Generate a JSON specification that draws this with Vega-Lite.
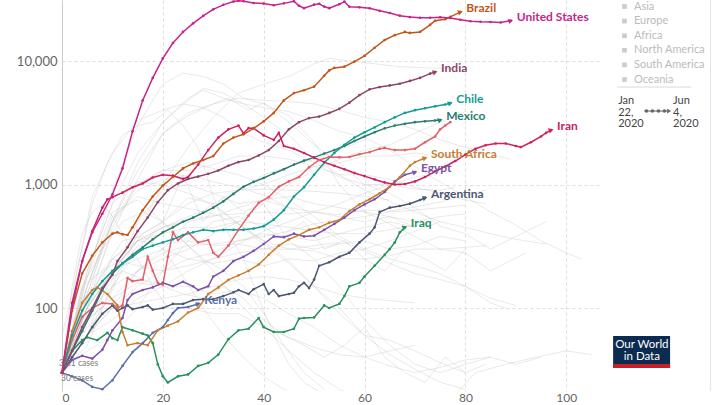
{
"$schema":"https://vega.github.io/schema/vega-lite/v6.json",
"width":538,"height":391,
"autosize":"none",
"padding":{"left":62,"top":0,"right":120,"bottom":14},
"background":"#ffffff",
"config":{"view":{"stroke":null},"font":"Lato","text":{"font":"Lato"}},
"datasets":{
"bgk":[{"c":"ITA","k":"Europe"},{"c":"ESP","k":"Europe"},{"c":"DEU","k":"Europe"},{"c":"FRA","k":"Europe"},{"c":"GBR","k":"Europe"},{"c":"RUS","k":"Europe"},{"c":"TUR","k":"Asia"},{"c":"CAN","k":"North America"},{"c":"BEL","k":"Europe"},{"c":"NLD","k":"Europe"},{"c":"CHE","k":"Europe"},{"c":"SWE","k":"Europe"},{"c":"PRT","k":"Europe"},{"c":"IRL","k":"Europe"},{"c":"AUT","k":"Europe"},{"c":"BLR","k":"Europe"},{"c":"UKR","k":"Europe"},{"c":"POL","k":"Europe"},{"c":"CHN","k":"Asia"},{"c":"KOR","k":"Asia"},{"c":"JPN","k":"Asia"},{"c":"PAK","k":"Asia"},{"c":"BGD","k":"Asia"},{"c":"QAT","k":"Asia"},{"c":"SGP","k":"Asia"},{"c":"PHL","k":"Asia"},{"c":"IDN","k":"Asia"},{"c":"ISR","k":"Asia"},{"c":"ARE","k":"Asia"},{"c":"DOM","k":"North America"},{"c":"ECU","k":"South America"},{"c":"COL","k":"South America"},{"c":"NGA","k":"Africa"},{"c":"DZA","k":"Africa"},{"c":"MAR","k":"Africa"},{"c":"AUS","k":"Oceania"},{"c":"MYS","k":"Asia"}],
"bg":[
{"c":"ITA","d":0,"v":30},{"c":"ITA","d":5,"v":200},{"c":"ITA","d":10,"v":700},{"c":"ITA","d":15,"v":1800},{"c":"ITA","d":20,"v":3200},{"c":"ITA","d":25,"v":5000},{"c":"ITA","d":28,"v":5800},{"c":"ITA","d":32,"v":5000},{"c":"ITA","d":36,"v":4500},{"c":"ITA","d":40,"v":4200},{"c":"ITA","d":45,"v":3900},{"c":"ITA","d":50,"v":3300},{"c":"ITA","d":55,"v":2700},{"c":"ITA","d":60,"v":2400},{"c":"ITA","d":65,"v":1900},{"c":"ITA","d":70,"v":1400},{"c":"ITA","d":75,"v":1050},{"c":"ITA","d":80,"v":800},{"c":"ITA","d":85,"v":600},{"c":"ITA","d":90,"v":470},{"c":"ITA","d":95,"v":350},{"c":"ITA","d":100,"v":280},{"c":"ITA","d":103,"v":250},
{"c":"ESP","d":0,"v":30},{"c":"ESP","d":5,"v":180},{"c":"ESP","d":10,"v":900},{"c":"ESP","d":15,"v":3000},{"c":"ESP","d":20,"v":6500},{"c":"ESP","d":24,"v":8000},{"c":"ESP","d":28,"v":7500},{"c":"ESP","d":32,"v":6500},{"c":"ESP","d":36,"v":5000},{"c":"ESP","d":40,"v":4500},{"c":"ESP","d":45,"v":3600},{"c":"ESP","d":50,"v":2200},{"c":"ESP","d":55,"v":1000},{"c":"ESP","d":60,"v":600},{"c":"ESP","d":65,"v":480},{"c":"ESP","d":70,"v":380},{"c":"ESP","d":75,"v":300},{"c":"ESP","d":80,"v":280},{"c":"ESP","d":85,"v":200},{"c":"ESP","d":92,"v":280},
{"c":"DEU","d":0,"v":30},{"c":"DEU","d":5,"v":150},{"c":"DEU","d":10,"v":500},{"c":"DEU","d":15,"v":1500},{"c":"DEU","d":20,"v":3200},{"c":"DEU","d":25,"v":4800},{"c":"DEU","d":28,"v":6000},{"c":"DEU","d":32,"v":5500},{"c":"DEU","d":36,"v":4500},{"c":"DEU","d":40,"v":3500},{"c":"DEU","d":45,"v":2500},{"c":"DEU","d":50,"v":1600},{"c":"DEU","d":55,"v":1200},{"c":"DEU","d":60,"v":900},{"c":"DEU","d":65,"v":730},{"c":"DEU","d":70,"v":600},{"c":"DEU","d":75,"v":500},{"c":"DEU","d":80,"v":450},{"c":"DEU","d":85,"v":400},{"c":"DEU","d":90,"v":360},{"c":"DEU","d":96,"v":330},
{"c":"FRA","d":0,"v":30},{"c":"FRA","d":5,"v":150},{"c":"FRA","d":10,"v":500},{"c":"FRA","d":15,"v":1300},{"c":"FRA","d":20,"v":2600},{"c":"FRA","d":25,"v":3600},{"c":"FRA","d":30,"v":4500},{"c":"FRA","d":33,"v":5000},{"c":"FRA","d":37,"v":4000},{"c":"FRA","d":40,"v":4600},{"c":"FRA","d":45,"v":3200},{"c":"FRA","d":50,"v":2100},{"c":"FRA","d":55,"v":1500},{"c":"FRA","d":60,"v":1000},{"c":"FRA","d":65,"v":850},{"c":"FRA","d":70,"v":650},{"c":"FRA","d":75,"v":460},{"c":"FRA","d":80,"v":400},{"c":"FRA","d":85,"v":300},{"c":"FRA","d":90,"v":380},{"c":"FRA","d":96,"v":500},
{"c":"GBR","d":0,"v":30},{"c":"GBR","d":5,"v":120},{"c":"GBR","d":10,"v":400},{"c":"GBR","d":15,"v":1100},{"c":"GBR","d":20,"v":2600},{"c":"GBR","d":25,"v":3800},{"c":"GBR","d":30,"v":4500},{"c":"GBR","d":35,"v":5000},{"c":"GBR","d":40,"v":4800},{"c":"GBR","d":45,"v":4700},{"c":"GBR","d":50,"v":4500},{"c":"GBR","d":55,"v":4000},{"c":"GBR","d":60,"v":3500},{"c":"GBR","d":65,"v":3200},{"c":"GBR","d":70,"v":2800},{"c":"GBR","d":75,"v":2300},{"c":"GBR","d":80,"v":2000},{"c":"GBR","d":85,"v":1750},{"c":"GBR","d":89,"v":1600},
{"c":"RUS","d":0,"v":30},{"c":"RUS","d":5,"v":60},{"c":"RUS","d":10,"v":140},{"c":"RUS","d":15,"v":400},{"c":"RUS","d":20,"v":1000},{"c":"RUS","d":25,"v":2000},{"c":"RUS","d":30,"v":3500},{"c":"RUS","d":35,"v":5500},{"c":"RUS","d":40,"v":6500},{"c":"RUS","d":45,"v":7500},{"c":"RUS","d":50,"v":9500},{"c":"RUS","d":53,"v":10500},{"c":"RUS","d":57,"v":10000},{"c":"RUS","d":62,"v":9500},{"c":"RUS","d":67,"v":9000},{"c":"RUS","d":72,"v":8800},{"c":"RUS","d":78,"v":8700},
{"c":"TUR","d":0,"v":30},{"c":"TUR","d":3,"v":200},{"c":"TUR","d":6,"v":800},{"c":"TUR","d":10,"v":1800},{"c":"TUR","d":15,"v":3300},{"c":"TUR","d":20,"v":4000},{"c":"TUR","d":24,"v":4500},{"c":"TUR","d":28,"v":4200},{"c":"TUR","d":32,"v":3500},{"c":"TUR","d":36,"v":2600},{"c":"TUR","d":40,"v":2200},{"c":"TUR","d":45,"v":1900},{"c":"TUR","d":50,"v":1500},{"c":"TUR","d":55,"v":1150},{"c":"TUR","d":60,"v":1000},{"c":"TUR","d":65,"v":1000},{"c":"TUR","d":70,"v":920},{"c":"TUR","d":75,"v":900},{"c":"TUR","d":78,"v":950},
{"c":"CAN","d":0,"v":30},{"c":"CAN","d":5,"v":130},{"c":"CAN","d":10,"v":500},{"c":"CAN","d":15,"v":1000},{"c":"CAN","d":20,"v":1300},{"c":"CAN","d":25,"v":1300},{"c":"CAN","d":30,"v":1450},{"c":"CAN","d":35,"v":1700},{"c":"CAN","d":40,"v":1700},{"c":"CAN","d":45,"v":1600},{"c":"CAN","d":50,"v":1400},{"c":"CAN","d":55,"v":1200},{"c":"CAN","d":60,"v":1200},{"c":"CAN","d":65,"v":1100},{"c":"CAN","d":70,"v":950},{"c":"CAN","d":75,"v":850},{"c":"CAN","d":80,"v":750},{"c":"CAN","d":84,"v":700},
{"c":"BEL","d":0,"v":30},{"c":"BEL","d":5,"v":100},{"c":"BEL","d":10,"v":450},{"c":"BEL","d":15,"v":1000},{"c":"BEL","d":20,"v":1300},{"c":"BEL","d":25,"v":1500},{"c":"BEL","d":30,"v":1350},{"c":"BEL","d":35,"v":1200},{"c":"BEL","d":40,"v":1000},{"c":"BEL","d":45,"v":750},{"c":"BEL","d":50,"v":550},{"c":"BEL","d":55,"v":380},{"c":"BEL","d":60,"v":300},{"c":"BEL","d":65,"v":250},{"c":"BEL","d":70,"v":220},{"c":"BEL","d":75,"v":190},{"c":"BEL","d":80,"v":150},{"c":"BEL","d":85,"v":110},{"c":"BEL","d":88,"v":100},
{"c":"NLD","d":0,"v":30},{"c":"NLD","d":5,"v":130},{"c":"NLD","d":10,"v":500},{"c":"NLD","d":15,"v":900},{"c":"NLD","d":20,"v":1100},{"c":"NLD","d":25,"v":1200},{"c":"NLD","d":30,"v":1050},{"c":"NLD","d":35,"v":950},{"c":"NLD","d":40,"v":820},{"c":"NLD","d":45,"v":650},{"c":"NLD","d":50,"v":480},{"c":"NLD","d":55,"v":360},{"c":"NLD","d":60,"v":290},{"c":"NLD","d":65,"v":230},{"c":"NLD","d":70,"v":190},{"c":"NLD","d":75,"v":170},{"c":"NLD","d":80,"v":150},{"c":"NLD","d":85,"v":120},{"c":"NLD","d":90,"v":105},
{"c":"CHE","d":0,"v":30},{"c":"CHE","d":5,"v":200},{"c":"CHE","d":10,"v":700},{"c":"CHE","d":15,"v":1050},{"c":"CHE","d":20,"v":1000},{"c":"CHE","d":25,"v":850},{"c":"CHE","d":30,"v":680},{"c":"CHE","d":35,"v":480},{"c":"CHE","d":40,"v":330},{"c":"CHE","d":45,"v":230},{"c":"CHE","d":50,"v":150},{"c":"CHE","d":55,"v":100},{"c":"CHE","d":60,"v":60},{"c":"CHE","d":65,"v":42},{"c":"CHE","d":70,"v":32},{"c":"CHE","d":75,"v":25},{"c":"CHE","d":80,"v":22},
{"c":"SWE","d":0,"v":30},{"c":"SWE","d":5,"v":80},{"c":"SWE","d":10,"v":170},{"c":"SWE","d":15,"v":320},{"c":"SWE","d":20,"v":450},{"c":"SWE","d":25,"v":520},{"c":"SWE","d":30,"v":560},{"c":"SWE","d":35,"v":580},{"c":"SWE","d":40,"v":600},{"c":"SWE","d":45,"v":580},{"c":"SWE","d":50,"v":600},{"c":"SWE","d":55,"v":570},{"c":"SWE","d":60,"v":620},{"c":"SWE","d":65,"v":610},{"c":"SWE","d":70,"v":660},{"c":"SWE","d":75,"v":720},{"c":"SWE","d":80,"v":820},{"c":"SWE","d":84,"v":900},
{"c":"PRT","d":0,"v":30},{"c":"PRT","d":5,"v":150},{"c":"PRT","d":10,"v":550},{"c":"PRT","d":15,"v":800},{"c":"PRT","d":20,"v":700},{"c":"PRT","d":25,"v":640},{"c":"PRT","d":30,"v":580},{"c":"PRT","d":35,"v":480},{"c":"PRT","d":40,"v":350},{"c":"PRT","d":45,"v":300},{"c":"PRT","d":50,"v":290},{"c":"PRT","d":55,"v":250},{"c":"PRT","d":60,"v":250},{"c":"PRT","d":65,"v":265},{"c":"PRT","d":70,"v":300},{"c":"PRT","d":75,"v":300},{"c":"PRT","d":80,"v":310},{"c":"PRT","d":84,"v":320},
{"c":"IRL","d":0,"v":30},{"c":"IRL","d":5,"v":120},{"c":"IRL","d":10,"v":250},{"c":"IRL","d":15,"v":380},{"c":"IRL","d":20,"v":500},{"c":"IRL","d":25,"v":780},{"c":"IRL","d":30,"v":700},{"c":"IRL","d":35,"v":480},{"c":"IRL","d":40,"v":350},{"c":"IRL","d":45,"v":240},{"c":"IRL","d":50,"v":150},{"c":"IRL","d":55,"v":90},{"c":"IRL","d":60,"v":60},{"c":"IRL","d":65,"v":55},{"c":"IRL","d":70,"v":45},{"c":"IRL","d":75,"v":36},{"c":"IRL","d":80,"v":30},
{"c":"AUT","d":0,"v":30},{"c":"AUT","d":5,"v":180},{"c":"AUT","d":10,"v":600},{"c":"AUT","d":15,"v":750},{"c":"AUT","d":20,"v":500},{"c":"AUT","d":25,"v":320},{"c":"AUT","d":30,"v":200},{"c":"AUT","d":35,"v":110},{"c":"AUT","d":40,"v":70},{"c":"AUT","d":45,"v":58},{"c":"AUT","d":50,"v":48},{"c":"AUT","d":55,"v":42},{"c":"AUT","d":60,"v":40},{"c":"AUT","d":65,"v":34},{"c":"AUT","d":70,"v":30},{"c":"AUT","d":75,"v":33},{"c":"AUT","d":80,"v":38},{"c":"AUT","d":85,"v":40},
{"c":"BLR","d":0,"v":30},{"c":"BLR","d":5,"v":60},{"c":"BLR","d":10,"v":150},{"c":"BLR","d":15,"v":300},{"c":"BLR","d":20,"v":500},{"c":"BLR","d":25,"v":700},{"c":"BLR","d":30,"v":850},{"c":"BLR","d":35,"v":900},{"c":"BLR","d":40,"v":920},{"c":"BLR","d":45,"v":900},{"c":"BLR","d":50,"v":880},{"c":"BLR","d":55,"v":850},{"c":"BLR","d":60,"v":800},{"c":"BLR","d":65,"v":750},
{"c":"UKR","d":0,"v":30},{"c":"UKR","d":5,"v":100},{"c":"UKR","d":10,"v":200},{"c":"UKR","d":15,"v":350},{"c":"UKR","d":20,"v":400},{"c":"UKR","d":25,"v":450},{"c":"UKR","d":30,"v":450},{"c":"UKR","d":35,"v":500},{"c":"UKR","d":40,"v":480},{"c":"UKR","d":45,"v":450},{"c":"UKR","d":50,"v":420},{"c":"UKR","d":55,"v":400},{"c":"UKR","d":60,"v":400},{"c":"UKR","d":65,"v":430},{"c":"UKR","d":70,"v":470},
{"c":"POL","d":0,"v":30},{"c":"POL","d":5,"v":120},{"c":"POL","d":10,"v":250},{"c":"POL","d":15,"v":350},{"c":"POL","d":20,"v":330},{"c":"POL","d":25,"v":350},{"c":"POL","d":30,"v":320},{"c":"POL","d":35,"v":330},{"c":"POL","d":40,"v":300},{"c":"POL","d":45,"v":330},{"c":"POL","d":50,"v":300},{"c":"POL","d":55,"v":330},{"c":"POL","d":60,"v":350},{"c":"POL","d":65,"v":300},{"c":"POL","d":70,"v":320},{"c":"POL","d":75,"v":380},{"c":"POL","d":80,"v":350},
{"c":"CHN","d":0,"v":60},{"c":"CHN","d":3,"v":200},{"c":"CHN","d":6,"v":700},{"c":"CHN","d":9,"v":1500},{"c":"CHN","d":12,"v":2500},{"c":"CHN","d":15,"v":3000},{"c":"CHN","d":18,"v":3200},{"c":"CHN","d":21,"v":4000},{"c":"CHN","d":24,"v":3000},{"c":"CHN","d":27,"v":2000},{"c":"CHN","d":30,"v":800},{"c":"CHN","d":33,"v":400},{"c":"CHN","d":36,"v":250},{"c":"CHN","d":39,"v":120},{"c":"CHN","d":42,"v":60},{"c":"CHN","d":45,"v":35},{"c":"CHN","d":48,"v":25},{"c":"CHN","d":51,"v":21},{"c":"CHN","d":54,"v":19},
{"c":"KOR","d":0,"v":30},{"c":"KOR","d":2,"v":150},{"c":"KOR","d":4,"v":400},{"c":"KOR","d":6,"v":600},{"c":"KOR","d":8,"v":700},{"c":"KOR","d":10,"v":550},{"c":"KOR","d":12,"v":400},{"c":"KOR","d":15,"v":250},{"c":"KOR","d":18,"v":150},{"c":"KOR","d":21,"v":100},{"c":"KOR","d":25,"v":100},{"c":"KOR","d":30,"v":90},{"c":"KOR","d":35,"v":90},{"c":"KOR","d":40,"v":70},{"c":"KOR","d":45,"v":45},{"c":"KOR","d":50,"v":30},{"c":"KOR","d":55,"v":22},{"c":"KOR","d":60,"v":18},{"c":"KOR","d":70,"v":15},{"c":"KOR","d":78,"v":20},{"c":"KOR","d":82,"v":30},{"c":"KOR","d":88,"v":35},{"c":"KOR","d":94,"v":40},{"c":"KOR","d":100,"v":45},{"c":"KOR","d":105,"v":42},
{"c":"JPN","d":0,"v":30},{"c":"JPN","d":5,"v":45},{"c":"JPN","d":10,"v":60},{"c":"JPN","d":15,"v":100},{"c":"JPN","d":20,"v":200},{"c":"JPN","d":25,"v":350},{"c":"JPN","d":30,"v":500},{"c":"JPN","d":35,"v":550},{"c":"JPN","d":40,"v":450},{"c":"JPN","d":45,"v":350},{"c":"JPN","d":50,"v":250},{"c":"JPN","d":55,"v":150},{"c":"JPN","d":60,"v":80},{"c":"JPN","d":65,"v":50},{"c":"JPN","d":70,"v":35},{"c":"JPN","d":75,"v":30},{"c":"JPN","d":80,"v":35},{"c":"JPN","d":85,"v":40},{"c":"JPN","d":90,"v":35},{"c":"JPN","d":95,"v":40},
{"c":"PAK","d":0,"v":30},{"c":"PAK","d":5,"v":90},{"c":"PAK","d":10,"v":150},{"c":"PAK","d":15,"v":200},{"c":"PAK","d":20,"v":250},{"c":"PAK","d":25,"v":300},{"c":"PAK","d":30,"v":400},{"c":"PAK","d":35,"v":500},{"c":"PAK","d":40,"v":700},{"c":"PAK","d":45,"v":1000},{"c":"PAK","d":50,"v":1300},{"c":"PAK","d":55,"v":1600},{"c":"PAK","d":60,"v":1900},{"c":"PAK","d":65,"v":2100},{"c":"PAK","d":70,"v":2600},{"c":"PAK","d":75,"v":3200},{"c":"PAK","d":80,"v":3900},
{"c":"BGD","d":0,"v":30},{"c":"BGD","d":5,"v":60},{"c":"BGD","d":10,"v":200},{"c":"BGD","d":15,"v":350},{"c":"BGD","d":20,"v":450},{"c":"BGD","d":25,"v":550},{"c":"BGD","d":30,"v":650},{"c":"BGD","d":35,"v":900},{"c":"BGD","d":40,"v":1200},{"c":"BGD","d":45,"v":1400},{"c":"BGD","d":50,"v":1600},{"c":"BGD","d":55,"v":1900},{"c":"BGD","d":60,"v":2300},
{"c":"QAT","d":0,"v":30},{"c":"QAT","d":5,"v":60},{"c":"QAT","d":10,"v":100},{"c":"QAT","d":15,"v":200},{"c":"QAT","d":20,"v":300},{"c":"QAT","d":25,"v":500},{"c":"QAT","d":30,"v":700},{"c":"QAT","d":35,"v":900},{"c":"QAT","d":40,"v":1000},{"c":"QAT","d":45,"v":1200},{"c":"QAT","d":50,"v":1400},{"c":"QAT","d":55,"v":1500},{"c":"QAT","d":60,"v":1700},{"c":"QAT","d":65,"v":1700},{"c":"QAT","d":70,"v":1800},{"c":"QAT","d":75,"v":1700},{"c":"QAT","d":80,"v":1700},
{"c":"SGP","d":0,"v":30},{"c":"SGP","d":5,"v":50},{"c":"SGP","d":10,"v":150},{"c":"SGP","d":15,"v":500},{"c":"SGP","d":20,"v":900},{"c":"SGP","d":25,"v":1000},{"c":"SGP","d":30,"v":850},{"c":"SGP","d":35,"v":700},{"c":"SGP","d":40,"v":750},{"c":"SGP","d":45,"v":650},{"c":"SGP","d":50,"v":600},{"c":"SGP","d":55,"v":550},{"c":"SGP","d":60,"v":500},{"c":"SGP","d":65,"v":550},{"c":"SGP","d":70,"v":450},
{"c":"PHL","d":0,"v":30},{"c":"PHL","d":5,"v":100},{"c":"PHL","d":10,"v":250},{"c":"PHL","d":15,"v":220},{"c":"PHL","d":20,"v":200},{"c":"PHL","d":25,"v":250},{"c":"PHL","d":30,"v":230},{"c":"PHL","d":35,"v":250},{"c":"PHL","d":40,"v":220},{"c":"PHL","d":45,"v":250},{"c":"PHL","d":50,"v":240},{"c":"PHL","d":55,"v":280},{"c":"PHL","d":60,"v":300},{"c":"PHL","d":65,"v":350},{"c":"PHL","d":70,"v":420},{"c":"PHL","d":75,"v":500},
{"c":"IDN","d":0,"v":30},{"c":"IDN","d":5,"v":80},{"c":"IDN","d":10,"v":120},{"c":"IDN","d":15,"v":200},{"c":"IDN","d":20,"v":280},{"c":"IDN","d":25,"v":320},{"c":"IDN","d":30,"v":330},{"c":"IDN","d":35,"v":350},{"c":"IDN","d":40,"v":380},{"c":"IDN","d":45,"v":420},{"c":"IDN","d":50,"v":480},{"c":"IDN","d":55,"v":520},{"c":"IDN","d":60,"v":550},{"c":"IDN","d":65,"v":600},{"c":"IDN","d":70,"v":620},{"c":"IDN","d":75,"v":650},{"c":"IDN","d":80,"v":680},
{"c":"ISR","d":0,"v":30},{"c":"ISR","d":4,"v":150},{"c":"ISR","d":8,"v":300},{"c":"ISR","d":12,"v":500},{"c":"ISR","d":16,"v":600},{"c":"ISR","d":20,"v":500},{"c":"ISR","d":24,"v":350},{"c":"ISR","d":28,"v":250},{"c":"ISR","d":32,"v":200},{"c":"ISR","d":36,"v":150},{"c":"ISR","d":40,"v":90},{"c":"ISR","d":44,"v":50},{"c":"ISR","d":48,"v":30},{"c":"ISR","d":52,"v":22},
{"c":"ARE","d":0,"v":30},{"c":"ARE","d":5,"v":100},{"c":"ARE","d":10,"v":200},{"c":"ARE","d":15,"v":350},{"c":"ARE","d":20,"v":450},{"c":"ARE","d":25,"v":500},{"c":"ARE","d":30,"v":550},{"c":"ARE","d":35,"v":650},{"c":"ARE","d":40,"v":750},{"c":"ARE","d":45,"v":800},{"c":"ARE","d":50,"v":700},{"c":"ARE","d":55,"v":650},{"c":"ARE","d":60,"v":600},{"c":"ARE","d":65,"v":550},{"c":"ARE","d":70,"v":500},{"c":"ARE","d":75,"v":550},{"c":"ARE","d":80,"v":580},
{"c":"DOM","d":0,"v":30},{"c":"DOM","d":5,"v":100},{"c":"DOM","d":10,"v":200},{"c":"DOM","d":15,"v":250},{"c":"DOM","d":20,"v":300},{"c":"DOM","d":25,"v":250},{"c":"DOM","d":30,"v":280},{"c":"DOM","d":35,"v":350},{"c":"DOM","d":40,"v":400},{"c":"DOM","d":45,"v":380},{"c":"DOM","d":50,"v":350},{"c":"DOM","d":55,"v":400},{"c":"DOM","d":60,"v":450},{"c":"DOM","d":65,"v":500},{"c":"DOM","d":70,"v":450},
{"c":"ECU","d":0,"v":30},{"c":"ECU","d":4,"v":150},{"c":"ECU","d":8,"v":200},{"c":"ECU","d":12,"v":250},{"c":"ECU","d":16,"v":400},{"c":"ECU","d":20,"v":500},{"c":"ECU","d":24,"v":1200},{"c":"ECU","d":28,"v":500},{"c":"ECU","d":32,"v":800},{"c":"ECU","d":36,"v":600},{"c":"ECU","d":40,"v":700},{"c":"ECU","d":44,"v":400},{"c":"ECU","d":48,"v":500},{"c":"ECU","d":52,"v":300},{"c":"ECU","d":56,"v":350},{"c":"ECU","d":60,"v":250},{"c":"ECU","d":64,"v":200},{"c":"ECU","d":68,"v":300},{"c":"ECU","d":72,"v":250},{"c":"ECU","d":76,"v":200},{"c":"ECU","d":80,"v":300},
{"c":"COL","d":0,"v":30},{"c":"COL","d":5,"v":60},{"c":"COL","d":10,"v":80},{"c":"COL","d":15,"v":120},{"c":"COL","d":20,"v":150},{"c":"COL","d":25,"v":200},{"c":"COL","d":30,"v":250},{"c":"COL","d":35,"v":330},{"c":"COL","d":40,"v":420},{"c":"COL","d":45,"v":500},{"c":"COL","d":50,"v":600},{"c":"COL","d":55,"v":700},{"c":"COL","d":60,"v":850},{"c":"COL","d":65,"v":1000},{"c":"COL","d":70,"v":1150},{"c":"COL","d":75,"v":1250},
{"c":"NGA","d":0,"v":30},{"c":"NGA","d":5,"v":60},{"c":"NGA","d":10,"v":100},{"c":"NGA","d":15,"v":150},{"c":"NGA","d":20,"v":200},{"c":"NGA","d":25,"v":220},{"c":"NGA","d":30,"v":250},{"c":"NGA","d":35,"v":280},{"c":"NGA","d":40,"v":300},{"c":"NGA","d":45,"v":300},{"c":"NGA","d":50,"v":320},{"c":"NGA","d":55,"v":340},
{"c":"DZA","d":0,"v":30},{"c":"DZA","d":5,"v":70},{"c":"DZA","d":10,"v":100},{"c":"DZA","d":15,"v":110},{"c":"DZA","d":20,"v":120},{"c":"DZA","d":25,"v":130},{"c":"DZA","d":30,"v":150},{"c":"DZA","d":35,"v":170},{"c":"DZA","d":40,"v":180},{"c":"DZA","d":45,"v":170},{"c":"DZA","d":50,"v":150},{"c":"DZA","d":55,"v":130},{"c":"DZA","d":60,"v":120},{"c":"DZA","d":65,"v":115},{"c":"DZA","d":70,"v":110},
{"c":"MAR","d":0,"v":30},{"c":"MAR","d":5,"v":80},{"c":"MAR","d":10,"v":120},{"c":"MAR","d":15,"v":160},{"c":"MAR","d":20,"v":150},{"c":"MAR","d":25,"v":150},{"c":"MAR","d":30,"v":130},{"c":"MAR","d":35,"v":140},{"c":"MAR","d":40,"v":120},{"c":"MAR","d":45,"v":90},{"c":"MAR","d":50,"v":70},{"c":"MAR","d":55,"v":50},{"c":"MAR","d":60,"v":40},{"c":"MAR","d":65,"v":45},{"c":"MAR","d":70,"v":50},
{"c":"AUS","d":0,"v":30},{"c":"AUS","d":4,"v":80},{"c":"AUS","d":8,"v":200},{"c":"AUS","d":12,"v":350},{"c":"AUS","d":16,"v":380},{"c":"AUS","d":20,"v":300},{"c":"AUS","d":24,"v":180},{"c":"AUS","d":28,"v":100},{"c":"AUS","d":32,"v":60},{"c":"AUS","d":36,"v":40},{"c":"AUS","d":40,"v":28},{"c":"AUS","d":44,"v":22},{"c":"AUS","d":48,"v":18},
{"c":"MYS","d":0,"v":30},{"c":"MYS","d":4,"v":120},{"c":"MYS","d":8,"v":150},{"c":"MYS","d":12,"v":200},{"c":"MYS","d":16,"v":170},{"c":"MYS","d":20,"v":150},{"c":"MYS","d":24,"v":130},{"c":"MYS","d":28,"v":120},{"c":"MYS","d":32,"v":150},{"c":"MYS","d":36,"v":120},{"c":"MYS","d":40,"v":80},{"c":"MYS","d":44,"v":60},{"c":"MYS","d":48,"v":50},{"c":"MYS","d":52,"v":40},{"c":"MYS","d":56,"v":50},{"c":"MYS","d":60,"v":70},{"c":"MYS","d":64,"v":40},{"c":"MYS","d":68,"v":30},{"c":"MYS","d":72,"v":25},{"c":"MYS","d":76,"v":40},{"c":"MYS","d":80,"v":30},{"c":"MYS","d":84,"v":35}
],
"hl":[
{"c":"Kenya","d":0,"v":30},{"c":"Kenya","d":2,"v":28},{"c":"Kenya","d":4,"v":26},{"c":"Kenya","d":6,"v":23},{"c":"Kenya","d":8,"v":22},{"c":"Kenya","d":10,"v":26},{"c":"Kenya","d":12,"v":34},{"c":"Kenya","d":14,"v":44},{"c":"Kenya","d":16,"v":52},{"c":"Kenya","d":18,"v":63},{"c":"Kenya","d":20,"v":70},{"c":"Kenya","d":21,"v":80},{"c":"Kenya","d":22,"v":91},{"c":"Kenya","d":23,"v":100},{"c":"Kenya","d":25,"v":102},{"c":"Kenya","d":27,"v":108},
{"c":"Iraq","d":0,"v":30},{"c":"Iraq","d":2,"v":45},{"c":"Iraq","d":4,"v":55},{"c":"Iraq","d":5,"v":58},{"c":"Iraq","d":7,"v":55},{"c":"Iraq","d":9,"v":63},{"c":"Iraq","d":10,"v":57},{"c":"Iraq","d":11,"v":55},{"c":"Iraq","d":12,"v":70},{"c":"Iraq","d":14,"v":66},{"c":"Iraq","d":16,"v":62},{"c":"Iraq","d":17,"v":60},{"c":"Iraq","d":18,"v":52},{"c":"Iraq","d":19,"v":35},{"c":"Iraq","d":20,"v":28},{"c":"Iraq","d":21,"v":25},{"c":"Iraq","d":23,"v":28},{"c":"Iraq","d":25,"v":29},{"c":"Iraq","d":27,"v":34},{"c":"Iraq","d":29,"v":36},{"c":"Iraq","d":31,"v":42},{"c":"Iraq","d":33,"v":56},{"c":"Iraq","d":35,"v":66},{"c":"Iraq","d":37,"v":68},{"c":"Iraq","d":39,"v":83},{"c":"Iraq","d":40,"v":70},{"c":"Iraq","d":42,"v":64},{"c":"Iraq","d":44,"v":64},{"c":"Iraq","d":46,"v":68},{"c":"Iraq","d":47,"v":82},{"c":"Iraq","d":48,"v":83},{"c":"Iraq","d":50,"v":84},{"c":"Iraq","d":52,"v":105},{"c":"Iraq","d":53,"v":100},{"c":"Iraq","d":55,"v":108},{"c":"Iraq","d":56,"v":125},{"c":"Iraq","d":57,"v":150},{"c":"Iraq","d":59,"v":160},{"c":"Iraq","d":60,"v":180},{"c":"Iraq","d":62,"v":220},{"c":"Iraq","d":64,"v":270},{"c":"Iraq","d":65,"v":300},{"c":"Iraq","d":66,"v":340},{"c":"Iraq","d":67,"v":410},{"c":"Iraq","d":68,"v":450},
{"c":"Argentina","d":0,"v":30},{"c":"Argentina","d":2,"v":40},{"c":"Argentina","d":4,"v":52},{"c":"Argentina","d":6,"v":70},{"c":"Argentina","d":8,"v":90},{"c":"Argentina","d":10,"v":105},{"c":"Argentina","d":11,"v":95},{"c":"Argentina","d":12,"v":100},{"c":"Argentina","d":13,"v":105},{"c":"Argentina","d":14,"v":98},{"c":"Argentina","d":16,"v":102},{"c":"Argentina","d":17,"v":105},{"c":"Argentina","d":18,"v":97},{"c":"Argentina","d":20,"v":100},{"c":"Argentina","d":22,"v":108},{"c":"Argentina","d":24,"v":108},{"c":"Argentina","d":26,"v":116},{"c":"Argentina","d":28,"v":118},{"c":"Argentina","d":30,"v":118},{"c":"Argentina","d":32,"v":125},{"c":"Argentina","d":34,"v":134},{"c":"Argentina","d":35,"v":140},{"c":"Argentina","d":37,"v":130},{"c":"Argentina","d":38,"v":142},{"c":"Argentina","d":40,"v":156},{"c":"Argentina","d":41,"v":130},{"c":"Argentina","d":42,"v":140},{"c":"Argentina","d":43,"v":125},{"c":"Argentina","d":45,"v":130},{"c":"Argentina","d":46,"v":133},{"c":"Argentina","d":47,"v":150},{"c":"Argentina","d":48,"v":160},{"c":"Argentina","d":49,"v":145},{"c":"Argentina","d":50,"v":170},{"c":"Argentina","d":51,"v":220},{"c":"Argentina","d":53,"v":235},{"c":"Argentina","d":55,"v":260},{"c":"Argentina","d":57,"v":280},{"c":"Argentina","d":59,"v":340},{"c":"Argentina","d":61,"v":400},{"c":"Argentina","d":62,"v":450},{"c":"Argentina","d":63,"v":600},{"c":"Argentina","d":65,"v":650},{"c":"Argentina","d":67,"v":670},{"c":"Argentina","d":69,"v":700},{"c":"Argentina","d":71,"v":750},{"c":"Argentina","d":72,"v":780},
{"c":"Egypt","d":0,"v":30},{"c":"Egypt","d":2,"v":38},{"c":"Egypt","d":4,"v":41},{"c":"Egypt","d":6,"v":39},{"c":"Egypt","d":8,"v":46},{"c":"Egypt","d":9,"v":55},{"c":"Egypt","d":10,"v":66},{"c":"Egypt","d":12,"v":83},{"c":"Egypt","d":13,"v":116},{"c":"Egypt","d":14,"v":130},{"c":"Egypt","d":16,"v":140},{"c":"Egypt","d":18,"v":147},{"c":"Egypt","d":20,"v":160},{"c":"Egypt","d":22,"v":150},{"c":"Egypt","d":24,"v":163},{"c":"Egypt","d":26,"v":150},{"c":"Egypt","d":27,"v":140},{"c":"Egypt","d":29,"v":150},{"c":"Egypt","d":30,"v":180},{"c":"Egypt","d":32,"v":200},{"c":"Egypt","d":34,"v":240},{"c":"Egypt","d":36,"v":260},{"c":"Egypt","d":38,"v":290},{"c":"Egypt","d":40,"v":330},{"c":"Egypt","d":42,"v":380},{"c":"Egypt","d":44,"v":375},{"c":"Egypt","d":46,"v":400},{"c":"Egypt","d":48,"v":380},{"c":"Egypt","d":50,"v":385},{"c":"Egypt","d":52,"v":430},{"c":"Egypt","d":54,"v":480},{"c":"Egypt","d":56,"v":540},{"c":"Egypt","d":58,"v":620},{"c":"Egypt","d":60,"v":690},{"c":"Egypt","d":62,"v":760},{"c":"Egypt","d":64,"v":870},{"c":"Egypt","d":66,"v":1060},{"c":"Egypt","d":68,"v":1200},{"c":"Egypt","d":70,"v":1260},
{"c":"South Africa","d":0,"v":30},{"c":"South Africa","d":2,"v":65},{"c":"South Africa","d":4,"v":110},{"c":"South Africa","d":6,"v":140},{"c":"South Africa","d":7,"v":147},{"c":"South Africa","d":9,"v":130},{"c":"South Africa","d":11,"v":105},{"c":"South Africa","d":12,"v":64},{"c":"South Africa","d":13,"v":50},{"c":"South Africa","d":15,"v":52},{"c":"South Africa","d":17,"v":50},{"c":"South Africa","d":19,"v":66},{"c":"South Africa","d":21,"v":72},{"c":"South Africa","d":23,"v":78},{"c":"South Africa","d":25,"v":92},{"c":"South Africa","d":27,"v":100},{"c":"South Africa","d":29,"v":130},{"c":"South Africa","d":31,"v":147},{"c":"South Africa","d":33,"v":169},{"c":"South Africa","d":35,"v":184},{"c":"South Africa","d":37,"v":200},{"c":"South Africa","d":39,"v":225},{"c":"South Africa","d":41,"v":270},{"c":"South Africa","d":43,"v":320},{"c":"South Africa","d":45,"v":360},{"c":"South Africa","d":47,"v":390},{"c":"South Africa","d":49,"v":430},{"c":"South Africa","d":51,"v":450},{"c":"South Africa","d":53,"v":490},{"c":"South Africa","d":55,"v":516},{"c":"South Africa","d":57,"v":610},{"c":"South Africa","d":59,"v":690},{"c":"South Africa","d":61,"v":760},{"c":"South Africa","d":63,"v":850},{"c":"South Africa","d":65,"v":960},{"c":"South Africa","d":67,"v":1150},{"c":"South Africa","d":69,"v":1420},{"c":"South Africa","d":70,"v":1520},{"c":"South Africa","d":72,"v":1640},
{"c":"Saudi Arabia","d":0,"v":30},{"c":"Saudi Arabia","d":2,"v":55},{"c":"Saudi Arabia","d":4,"v":85},{"c":"Saudi Arabia","d":6,"v":100},{"c":"Saudi Arabia","d":8,"v":110},{"c":"Saudi Arabia","d":10,"v":108},{"c":"Saudi Arabia","d":11,"v":100},{"c":"Saudi Arabia","d":12,"v":105},{"c":"Saudi Arabia","d":13,"v":175},{"c":"Saudi Arabia","d":14,"v":165},{"c":"Saudi Arabia","d":16,"v":170},{"c":"Saudi Arabia","d":17,"v":260},{"c":"Saudi Arabia","d":18,"v":200},{"c":"Saudi Arabia","d":19,"v":160},{"c":"Saudi Arabia","d":20,"v":155},{"c":"Saudi Arabia","d":21,"v":260},{"c":"Saudi Arabia","d":22,"v":410},{"c":"Saudi Arabia","d":23,"v":355},{"c":"Saudi Arabia","d":25,"v":410},{"c":"Saudi Arabia","d":27,"v":340},{"c":"Saudi Arabia","d":29,"v":355},{"c":"Saudi Arabia","d":30,"v":280},{"c":"Saudi Arabia","d":31,"v":260},{"c":"Saudi Arabia","d":33,"v":320},{"c":"Saudi Arabia","d":35,"v":430},{"c":"Saudi Arabia","d":37,"v":560},{"c":"Saudi Arabia","d":39,"v":710},{"c":"Saudi Arabia","d":41,"v":790},{"c":"Saudi Arabia","d":43,"v":960},{"c":"Saudi Arabia","d":45,"v":1060},{"c":"Saudi Arabia","d":47,"v":1150},{"c":"Saudi Arabia","d":49,"v":1380},{"c":"Saudi Arabia","d":51,"v":1580},{"c":"Saudi Arabia","d":53,"v":1670},{"c":"Saudi Arabia","d":55,"v":1660},{"c":"Saudi Arabia","d":57,"v":1670},{"c":"Saudi Arabia","d":59,"v":1760},{"c":"Saudi Arabia","d":61,"v":1830},{"c":"Saudi Arabia","d":63,"v":1950},{"c":"Saudi Arabia","d":64,"v":1980},{"c":"Saudi Arabia","d":66,"v":1900},{"c":"Saudi Arabia","d":68,"v":1900},{"c":"Saudi Arabia","d":70,"v":1950},{"c":"Saudi Arabia","d":72,"v":2200},{"c":"Saudi Arabia","d":74,"v":2450},{"c":"Saudi Arabia","d":75,"v":2800},{"c":"Saudi Arabia","d":76,"v":3000},{"c":"Saudi Arabia","d":77,"v":3200},
{"c":"Mexico","d":0,"v":30},{"c":"Mexico","d":2,"v":45},{"c":"Mexico","d":4,"v":65},{"c":"Mexico","d":6,"v":95},{"c":"Mexico","d":8,"v":140},{"c":"Mexico","d":10,"v":190},{"c":"Mexico","d":12,"v":230},{"c":"Mexico","d":14,"v":270},{"c":"Mexico","d":16,"v":310},{"c":"Mexico","d":18,"v":360},{"c":"Mexico","d":20,"v":410},{"c":"Mexico","d":22,"v":450},{"c":"Mexico","d":24,"v":500},{"c":"Mexico","d":26,"v":540},{"c":"Mexico","d":28,"v":590},{"c":"Mexico","d":30,"v":650},{"c":"Mexico","d":32,"v":730},{"c":"Mexico","d":34,"v":840},{"c":"Mexico","d":36,"v":960},{"c":"Mexico","d":38,"v":1050},{"c":"Mexico","d":40,"v":1130},{"c":"Mexico","d":42,"v":1230},{"c":"Mexico","d":44,"v":1330},{"c":"Mexico","d":46,"v":1450},{"c":"Mexico","d":48,"v":1560},{"c":"Mexico","d":50,"v":1660},{"c":"Mexico","d":52,"v":1780},{"c":"Mexico","d":54,"v":1900},{"c":"Mexico","d":56,"v":2050},{"c":"Mexico","d":58,"v":2250},{"c":"Mexico","d":60,"v":2450},{"c":"Mexico","d":62,"v":2650},{"c":"Mexico","d":64,"v":2850},{"c":"Mexico","d":66,"v":3000},{"c":"Mexico","d":68,"v":3100},{"c":"Mexico","d":70,"v":3200},{"c":"Mexico","d":72,"v":3250},{"c":"Mexico","d":74,"v":3300},{"c":"Mexico","d":75,"v":3330},
{"c":"Chile","d":0,"v":30},{"c":"Chile","d":2,"v":60},{"c":"Chile","d":4,"v":95},{"c":"Chile","d":6,"v":130},{"c":"Chile","d":8,"v":165},{"c":"Chile","d":10,"v":200},{"c":"Chile","d":12,"v":230},{"c":"Chile","d":14,"v":260},{"c":"Chile","d":16,"v":300},{"c":"Chile","d":18,"v":320},{"c":"Chile","d":20,"v":340},{"c":"Chile","d":22,"v":360},{"c":"Chile","d":24,"v":390},{"c":"Chile","d":26,"v":410},{"c":"Chile","d":28,"v":430},{"c":"Chile","d":30,"v":420},{"c":"Chile","d":32,"v":430},{"c":"Chile","d":34,"v":430},{"c":"Chile","d":36,"v":430},{"c":"Chile","d":38,"v":440},{"c":"Chile","d":40,"v":460},{"c":"Chile","d":42,"v":520},{"c":"Chile","d":44,"v":620},{"c":"Chile","d":46,"v":800},{"c":"Chile","d":48,"v":950},{"c":"Chile","d":50,"v":1200},{"c":"Chile","d":52,"v":1500},{"c":"Chile","d":54,"v":1800},{"c":"Chile","d":56,"v":2100},{"c":"Chile","d":58,"v":2400},{"c":"Chile","d":60,"v":2650},{"c":"Chile","d":62,"v":2900},{"c":"Chile","d":64,"v":3200},{"c":"Chile","d":66,"v":3500},{"c":"Chile","d":68,"v":3800},{"c":"Chile","d":70,"v":4000},{"c":"Chile","d":72,"v":4150},{"c":"Chile","d":74,"v":4300},{"c":"Chile","d":76,"v":4450},{"c":"Chile","d":77,"v":4560},
{"c":"India","d":0,"v":30},{"c":"India","d":2,"v":45},{"c":"India","d":4,"v":70},{"c":"India","d":6,"v":100},{"c":"India","d":8,"v":145},{"c":"India","d":10,"v":185},{"c":"India","d":11,"v":240},{"c":"India","d":13,"v":310},{"c":"India","d":15,"v":420},{"c":"India","d":17,"v":540},{"c":"India","d":19,"v":720},{"c":"India","d":21,"v":900},{"c":"India","d":23,"v":1020},{"c":"India","d":25,"v":1110},{"c":"India","d":27,"v":1160},{"c":"India","d":29,"v":1220},{"c":"India","d":31,"v":1300},{"c":"India","d":33,"v":1420},{"c":"India","d":35,"v":1520},{"c":"India","d":37,"v":1580},{"c":"India","d":39,"v":1720},{"c":"India","d":41,"v":1900},{"c":"India","d":43,"v":2250},{"c":"India","d":45,"v":2800},{"c":"India","d":47,"v":3200},{"c":"India","d":49,"v":3450},{"c":"India","d":51,"v":3550},{"c":"India","d":53,"v":3800},{"c":"India","d":55,"v":4100},{"c":"India","d":57,"v":4600},{"c":"India","d":59,"v":5300},{"c":"India","d":61,"v":5900},{"c":"India","d":63,"v":6150},{"c":"India","d":65,"v":6350},{"c":"India","d":67,"v":6550},{"c":"India","d":69,"v":6900},{"c":"India","d":71,"v":7300},{"c":"India","d":73,"v":7900},{"c":"India","d":74,"v":8150},
{"c":"Iran","d":0,"v":30},{"c":"Iran","d":2,"v":110},{"c":"Iran","d":4,"v":240},{"c":"Iran","d":6,"v":420},{"c":"Iran","d":8,"v":650},{"c":"Iran","d":9,"v":760},{"c":"Iran","d":10,"v":790},{"c":"Iran","d":12,"v":860},{"c":"Iran","d":14,"v":950},{"c":"Iran","d":16,"v":1020},{"c":"Iran","d":18,"v":1140},{"c":"Iran","d":20,"v":1200},{"c":"Iran","d":22,"v":1180},{"c":"Iran","d":24,"v":1110},{"c":"Iran","d":25,"v":1150},{"c":"Iran","d":27,"v":1450},{"c":"Iran","d":29,"v":1900},{"c":"Iran","d":31,"v":2400},{"c":"Iran","d":33,"v":2800},{"c":"Iran","d":35,"v":3000},{"c":"Iran","d":36,"v":2600},{"c":"Iran","d":37,"v":2860},{"c":"Iran","d":38,"v":2860},{"c":"Iran","d":40,"v":2500},{"c":"Iran","d":42,"v":2300},{"c":"Iran","d":43,"v":2620},{"c":"Iran","d":44,"v":2050},{"c":"Iran","d":46,"v":1950},{"c":"Iran","d":48,"v":1800},{"c":"Iran","d":50,"v":1650},{"c":"Iran","d":52,"v":1520},{"c":"Iran","d":54,"v":1420},{"c":"Iran","d":56,"v":1330},{"c":"Iran","d":58,"v":1240},{"c":"Iran","d":60,"v":1170},{"c":"Iran","d":62,"v":1100},{"c":"Iran","d":64,"v":1040},{"c":"Iran","d":66,"v":1000},{"c":"Iran","d":68,"v":1010},{"c":"Iran","d":70,"v":1060},{"c":"Iran","d":72,"v":1150},{"c":"Iran","d":74,"v":1280},{"c":"Iran","d":76,"v":1400},{"c":"Iran","d":78,"v":1550},{"c":"Iran","d":80,"v":1750},{"c":"Iran","d":82,"v":1950},{"c":"Iran","d":84,"v":2080},{"c":"Iran","d":86,"v":2150},{"c":"Iran","d":88,"v":2150},{"c":"Iran","d":90,"v":2050},{"c":"Iran","d":91,"v":2010},{"c":"Iran","d":93,"v":2200},{"c":"Iran","d":95,"v":2450},{"c":"Iran","d":96,"v":2620},{"c":"Iran","d":97,"v":2760},
{"c":"Brazil","d":0,"v":30},{"c":"Brazil","d":2,"v":95},{"c":"Brazil","d":4,"v":190},{"c":"Brazil","d":6,"v":265},{"c":"Brazil","d":8,"v":340},{"c":"Brazil","d":10,"v":400},{"c":"Brazil","d":11,"v":410},{"c":"Brazil","d":12,"v":395},{"c":"Brazil","d":13,"v":390},{"c":"Brazil","d":14,"v":450},{"c":"Brazil","d":16,"v":620},{"c":"Brazil","d":18,"v":800},{"c":"Brazil","d":20,"v":980},{"c":"Brazil","d":22,"v":1150},{"c":"Brazil","d":24,"v":1350},{"c":"Brazil","d":26,"v":1480},{"c":"Brazil","d":28,"v":1580},{"c":"Brazil","d":30,"v":1700},{"c":"Brazil","d":32,"v":2150},{"c":"Brazil","d":34,"v":2400},{"c":"Brazil","d":36,"v":2550},{"c":"Brazil","d":38,"v":2850},{"c":"Brazil","d":40,"v":3250},{"c":"Brazil","d":42,"v":3800},{"c":"Brazil","d":44,"v":4800},{"c":"Brazil","d":46,"v":5500},{"c":"Brazil","d":48,"v":5800},{"c":"Brazil","d":50,"v":6200},{"c":"Brazil","d":52,"v":7600},{"c":"Brazil","d":53,"v":8400},{"c":"Brazil","d":54,"v":8800},{"c":"Brazil","d":56,"v":9000},{"c":"Brazil","d":58,"v":9900},{"c":"Brazil","d":60,"v":11000},{"c":"Brazil","d":62,"v":12800},{"c":"Brazil","d":64,"v":14800},{"c":"Brazil","d":66,"v":16200},{"c":"Brazil","d":68,"v":17200},{"c":"Brazil","d":69,"v":16900},{"c":"Brazil","d":71,"v":17200},{"c":"Brazil","d":73,"v":19600},{"c":"Brazil","d":74,"v":21200},{"c":"Brazil","d":76,"v":21800},{"c":"Brazil","d":77,"v":22800},{"c":"Brazil","d":79,"v":24900},
{"c":"United States","d":0,"v":30},{"c":"United States","d":2,"v":100},{"c":"United States","d":4,"v":240},{"c":"United States","d":6,"v":410},{"c":"United States","d":8,"v":580},{"c":"United States","d":10,"v":830},{"c":"United States","d":12,"v":1350},{"c":"United States","d":14,"v":2700},{"c":"United States","d":16,"v":4800},{"c":"United States","d":18,"v":7300},{"c":"United States","d":20,"v":10500},{"c":"United States","d":22,"v":14000},{"c":"United States","d":24,"v":17200},{"c":"United States","d":26,"v":20200},{"c":"United States","d":28,"v":23200},{"c":"United States","d":30,"v":26200},{"c":"United States","d":32,"v":28500},{"c":"United States","d":34,"v":30300},{"c":"United States","d":35,"v":30800},{"c":"United States","d":36,"v":30500},{"c":"United States","d":38,"v":29500},{"c":"United States","d":40,"v":29200},{"c":"United States","d":42,"v":28300},{"c":"United States","d":44,"v":29300},{"c":"United States","d":46,"v":30500},{"c":"United States","d":47,"v":28000},{"c":"United States","d":48,"v":26800},{"c":"United States","d":50,"v":28600},{"c":"United States","d":51,"v":29100},{"c":"United States","d":52,"v":27600},{"c":"United States","d":53,"v":26800},{"c":"United States","d":55,"v":28800},{"c":"United States","d":56,"v":30300},{"c":"United States","d":57,"v":27500},{"c":"United States","d":59,"v":27200},{"c":"United States","d":61,"v":26700},{"c":"United States","d":63,"v":25500},{"c":"United States","d":65,"v":24500},{"c":"United States","d":67,"v":23300},{"c":"United States","d":69,"v":22700},{"c":"United States","d":71,"v":22400},{"c":"United States","d":73,"v":22400},{"c":"United States","d":75,"v":22600},{"c":"United States","d":77,"v":22300},{"c":"United States","d":79,"v":21600},{"c":"United States","d":81,"v":21000},{"c":"United States","d":83,"v":20800},{"c":"United States","d":85,"v":20700},{"c":"United States","d":87,"v":20500},{"c":"United States","d":89,"v":21200}
]
},
"layer":[
{"data":{"name":"bg"},
 "transform":[{"lookup":"c","from":{"data":{"name":"bgk"},"key":"c","fields":["k"]}}],
 "mark":{"type":"line","strokeWidth":1,"opacity":0.38,"clip":true},
 "encoding":{
  "x":{"field":"d","type":"quantitative","title":null,"scale":{"domain":[0,106.7],"nice":false,"zero":false},
       "axis":{"title":null,"values":[0,20,40,60,80,100],"grid":true,"gridDash":[3,3],"gridColor":"#dddddd","domain":false,"ticks":false,"labelColor":"#666666","labelFontSize":12,"labelFont":"Lato","labelPadding":1}},
  "y":{"field":"v","type":"quantitative","title":null,"scale":{"type":"log","domain":[21.3,31200],"nice":false},
       "axis":{"title":null,"values":[100,1000,10000],"format":",","grid":true,"gridDash":[3,3],"gridColor":"#dddddd","domain":true,"domainColor":"#cccccc","ticks":false,"labelColor":"#666666","labelFontSize":13,"labelFont":"Lato","labelPadding":5}},
  "detail":{"field":"c"},
  "stroke":{"field":"k","type":"nominal",
    "scale":{"domain":["Asia","Europe","Africa","North America","South America","Oceania"],"range":["#c4c4c4","#c4c4c4","#c4c4c4","#c4c4c4","#c4c4c4","#c4c4c4"]},
    "legend":{"title":null,"orient":"none","legendX":557,"legendY":1,"symbolType":"square","symbolSize":22,"symbolFillColor":"#cccccc","symbolStrokeColor":"#cccccc","symbolStrokeWidth":0,"symbolOpacity":1,"labelColor":"#bbbbbb","labelFontSize":11,"labelFont":"Lato","labelOffset":4,"rowPadding":2.6,"padding":0}}
 }},
{"data":{"name":"hl"},
 "mark":{"type":"line","strokeWidth":1.5,"point":{"filled":true,"size":7}},
 "encoding":{
  "x":{"field":"d","type":"quantitative","title":null},
  "y":{"field":"v","type":"quantitative","title":null},
  "color":{"field":"c","type":"nominal","legend":null,
    "scale":{"domain":["United States","Brazil","India","Chile","Mexico","Iran","South Africa","Egypt","Argentina","Iraq","Kenya","Saudi Arabia"],
             "range":["#c4258b","#c0571c","#8c4569","#139c92","#2b7d70","#cf2062","#c87e2f","#7b52a8","#4b5872","#27915e","#5a6ea6","#e0616a"]}}
 }},
{"data":{"name":"hl"},
 "transform":[{"joinaggregate":[{"op":"max","field":"d","as":"md"}],"groupby":["c"]},{"filter":"datum.d == datum.md && datum.c != 'Saudi Arabia'"}],
 "encoding":{
  "x":{"field":"d","type":"quantitative","title":null},
  "y":{"field":"v","type":"quantitative","title":null},
  "color":{"field":"c","type":"nominal","legend":null}
 },
 "layer":[
  {"mark":{"type":"point","shape":"triangle-right","filled":true,"size":30,"angle":-20,"opacity":1}},
  {"mark":{"type":"text","align":"left","baseline":"middle","dx":6,"dy":-4,"fontSize":12,"fontWeight":"bold","font":"Lato"},"encoding":{"text":{"field":"c"}}}
 ]},
{"data":{"values":[{}]},"mark":{"type":"rule","color":"#d9d9d9","strokeWidth":1},
 "encoding":{"x":{"datum":110.1,"type":"quantitative","title":null},"x2":{"datum":124.8},"y":{"datum":6160,"type":"quantitative","title":null}}},
{"data":{"values":[{}]},"mark":{"type":"text","align":"left","baseline":"top","fontSize":11,"lineHeight":11.5,"color":"#444444","font":"Lato"},
 "encoding":{"x":{"datum":110.3,"type":"quantitative","title":null},"y":{"datum":5305,"type":"quantitative","title":null},"text":{"value":["Jan","22,","2020"]}}},
{"data":{"values":[{}]},"mark":{"type":"text","align":"left","baseline":"top","fontSize":11,"lineHeight":11.5,"color":"#444444","font":"Lato"},
 "encoding":{"x":{"datum":121.2,"type":"quantitative","title":null},"y":{"datum":5305,"type":"quantitative","title":null},"text":{"value":["Jun","4,","2020"]}}},
{"data":{"values":[{}]},"mark":{"type":"rule","color":"#666666","strokeWidth":1},
 "encoding":{"x":{"datum":115.5,"type":"quantitative","title":null},"x2":{"datum":120},"y":{"datum":3936,"type":"quantitative","title":null}}},
{"data":{"values":[{}]},"mark":{"type":"rule","color":"#666666","strokeWidth":3.6,"strokeCap":"round","strokeDash":[0.1,5.9]},
 "encoding":{"x":{"datum":115.9,"type":"quantitative","title":null},"x2":{"datum":119.6},"y":{"datum":3936,"type":"quantitative","title":null}}},
{"data":{"values":[{}]},"mark":{"type":"point","shape":"triangle-right","filled":true,"size":22,"color":"#666666","opacity":1},
 "encoding":{"x":{"datum":120.4,"type":"quantitative","title":null},"y":{"datum":3936,"type":"quantitative","title":null}}},
{"data":{"values":[{}]},"mark":{"type":"rect","color":"#0c2b50"},
 "encoding":{"x":{"datum":109.3,"type":"quantitative","title":null},"x2":{"datum":120.6},"y":{"datum":59.3,"type":"quantitative","title":null},"y2":{"datum":32.7}}},
{"data":{"values":[{}]},"mark":{"type":"rect","color":"#c8202a"},
 "encoding":{"x":{"datum":109.3,"type":"quantitative","title":null},"x2":{"datum":120.6},"y":{"datum":35.2,"type":"quantitative","title":null},"y2":{"datum":32.7}}},
{"data":{"values":[{}]},"mark":{"type":"text","align":"center","baseline":"top","fontSize":11.5,"lineHeight":12,"color":"#ffffff","font":"Lato"},
 "encoding":{"x":{"datum":115.0,"type":"quantitative","title":null},"y":{"datum":56.1,"type":"quantitative","title":null},"text":{"value":["Our World","in Data"]}}},
{"data":{"values":[{}]},"mark":{"type":"rule","color":"#e4e4e4","strokeWidth":1},
 "encoding":{"x":{"datum":128.6,"type":"quantitative","title":null}}},
{"data":{"values":[{}]},"mark":{"type":"text","align":"left","baseline":"middle","dx":-3,"fontSize":8.5,"color":"#777777","font":"Lato"},
 "encoding":{"x":{"datum":0,"type":"quantitative","title":null},"y":{"datum":36.1,"type":"quantitative","title":null},"text":{"value":"36.1 cases"}}},
{"data":{"values":[{}]},"mark":{"type":"text","align":"left","baseline":"middle","dx":-1,"dy":5,"fontSize":8.5,"color":"#777777","font":"Lato"},
 "encoding":{"x":{"datum":0,"type":"quantitative","title":null},"y":{"datum":30,"type":"quantitative","title":null},"text":{"value":"30 cases"}}}
]
}
